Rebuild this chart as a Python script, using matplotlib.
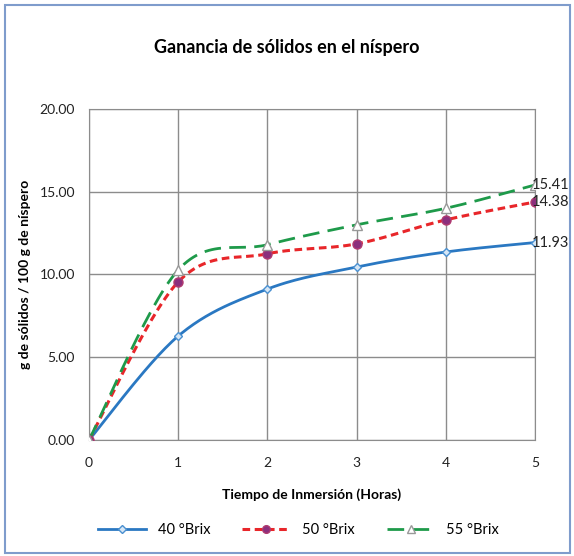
import matplotlib
matplotlib.use("Agg")
import matplotlib.pyplot as plt
import numpy as np
from matplotlib.patches import Rectangle

horas = [0, 1, 2, 3, 4, 5]
brix_40 = [0.0, 6.28, 9.12, 10.45, 11.36, 11.93]
brix_50 = [0.0, 9.55, 11.25, 11.85, 13.30, 14.38]
brix_55 = [0.0, 10.27, 11.80, 13.00, 14.00, 15.41]
series_names = ["40 °Brix", "50 °Brix", "55 °Brix"]
yticks = [0, 5, 10, 15, 20]

plt.rcParams["font.family"] = ["Lato", "DejaVu Sans"]


def smooth(x, y, n=30):
    # Catmull-Rom style smoothing, like Excel's "smoothed line"
    x = np.asarray(x, float)
    y = np.asarray(y, float)
    px = np.concatenate([[x[0]], x, [x[-1]]])
    py = np.concatenate([[y[0]], y, [y[-1]]])
    xs, ys = [], []
    t = np.linspace(0, 1, n)
    for i in range(1, len(px) - 2):
        p0, p1, p2, p3 = (np.array([px[j], py[j]]) for j in (i - 1, i, i + 1, i + 2))
        c1 = p1 + (p2 - p0) / 6
        c2 = p2 - (p3 - p1) / 6
        seg = ((1 - t) ** 3)[:, None] * p1 + (3 * (1 - t) ** 2 * t)[:, None] * c1 \
            + (3 * (1 - t) * t ** 2)[:, None] * c2 + (t ** 3)[:, None] * p2
        xs.extend(seg[:, 0])
        ys.extend(seg[:, 1])
    return xs, ys


fig = plt.figure(figsize=(5.74, 5.56), dpi=100)
fig.patches.append(Rectangle((0.008, 0.006), 0.985, 0.985, transform=fig.transFigure,
                             fill=False, edgecolor="#7f9ccc", linewidth=1.5))
ax = fig.add_axes([0.155, 0.2086, 0.777, 0.5954])

styles = [
    dict(color="#2a78c2", ls="-", lw=2.0, marker="D", ms=4.5, mfc="#d6e6f5", mec="#4a90d0"),
    dict(color="#e8262a", ls=(0, (2.5, 1.5)), lw=2.2, marker="o", ms=6.5, mfc="#8b2f7d", mec="#b03a70"),
    dict(color="#1e9a4a", ls=(0, (6, 3)), lw=2.0, marker="^", ms=7, mfc="white", mec="#999999"),
]
handles = []
for vals, name, st in zip([brix_40, brix_50, brix_55], series_names, styles):
    sx, sy = smooth(horas, vals)
    ax.plot(sx, sy, color=st["color"], ls=st["ls"], lw=st["lw"], zorder=3)
    ax.plot(horas, vals, ls="none", marker=st["marker"], ms=st["ms"],
            mfc=st["mfc"], mec=st["mec"], mew=1, zorder=4)
    h, = ax.plot([], [], color=st["color"], ls=st["ls"], lw=st["lw"], marker=st["marker"],
                 ms=st["ms"], mfc=st["mfc"], mec=st["mec"], mew=1)
    handles.append(h)
    ax.annotate(f"{vals[-1]:.2f}", (horas[-1], vals[-1]), xytext=(-2, 0),
                textcoords="offset points", fontsize=10.5, color="#222222",
                ha="left", va="center", zorder=5, annotation_clip=False)

ax.set_xlim(0, 5)
ax.set_ylim(0, 20)
ax.set_xticks(horas)
ax.set_yticks(yticks)
ax.set_yticklabels([f"{v:.2f}" for v in yticks])
ax.grid(True, color="#8c8c8c", lw=1.0)
ax.set_axisbelow(True)
for s in ax.spines.values():
    s.set_color("#8c8c8c")
ax.tick_params(length=0, labelsize=10, colors="#222222")
ax.tick_params(axis="x", pad=12)
ax.tick_params(axis="y", pad=10)

ax.set_xlabel("Tiempo de Inmersión (Horas)", fontsize=10, fontweight="bold", labelpad=14)
ax.set_ylabel("g de sólidos / 100 g de níspero", fontsize=10, fontweight="bold", labelpad=6)
fig.text(0.5, 0.914, "Ganancia de sólidos en el níspero", ha="center", va="center",
         fontsize=13, fontweight="bold")
fig.legend(handles, series_names, loc="center", bbox_to_anchor=(0.52, 0.046), ncol=3,
           frameon=False, fontsize=10.5, handlelength=3.3, columnspacing=2.2,
           markerscale=0.85)

fig.savefig("out.png", dpi=100)
